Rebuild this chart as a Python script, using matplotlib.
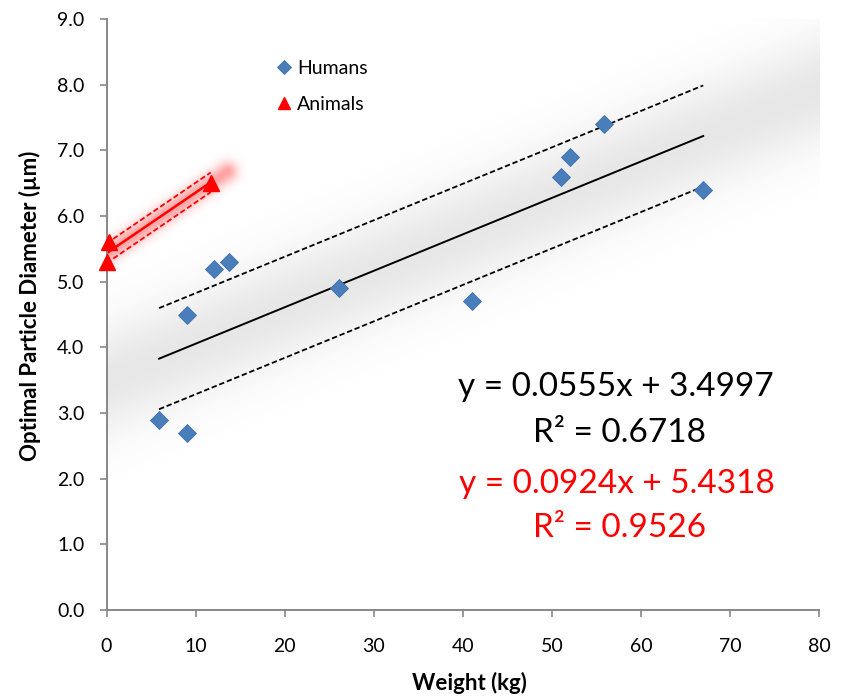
import numpy as np
import matplotlib
matplotlib.use("Agg")
import matplotlib.pyplot as plt

plt.rcParams['font.family'] = ['Lato', 'DejaVu Sans']

# humans
human_weight = [5.9, 9.0, 9.0, 12.1, 13.7, 26.1, 41.0, 51.0, 52.0, 55.9, 67.0]
human_diam = [2.9, 2.7, 4.5, 5.2, 5.3, 4.9, 4.7, 6.6, 6.9, 7.4, 6.4]

# animals
animal_weight = [0.0, 0.3, 11.7]
animal_diam = [5.3, 5.6, 6.5]

# trend lines (slope, intercept, r2) and half width of the dashed band
human_fit = (0.0555, 3.4997, 0.6718)
animal_fit = (0.0924, 5.4318, 0.9526)
human_band = 0.77
animal_band = 0.15

xticks = np.arange(0, 81, 10)
yticks = np.arange(0, 9.1, 1.0)

W, H = 843, 696
fig = plt.figure(figsize=(W / 100, H / 100), dpi=100)
ax = fig.add_axes([106.5 / W, 86 / H, 712.5 / W, 591 / H])
ax.set_xlim(0, 80)
ax.set_ylim(0, 9)

# pixels per data unit, used for the glow
sx = 712.5 / 80
sy = 591 / 9


def glow(slope, icpt, x0, x1, sigma, rgb, amax):
    gx = np.linspace(0, 80, 900)
    gy = np.linspace(0, 9, 700)
    X, Y = np.meshgrid(gx, gy)
    # distance to segment in pixel space
    px, py = X * sx, Y * sy
    ax0, ay0 = x0 * sx, (slope * x0 + icpt) * sy
    ax1, ay1 = x1 * sx, (slope * x1 + icpt) * sy
    dx, dy = ax1 - ax0, ay1 - ay0
    t = ((px - ax0) * dx + (py - ay0) * dy) / (dx * dx + dy * dy)
    t = np.clip(t, 0, 1)
    d2 = (px - (ax0 + t * dx)) ** 2 + (py - (ay0 + t * dy)) ** 2
    img = np.zeros(X.shape + (4,))
    img[..., :3] = rgb
    img[..., 3] = amax * np.exp(-d2 / (2 * sigma ** 2))
    ax.imshow(img, extent=(0, 80, 0, 9), origin='lower', aspect='auto',
              interpolation='bilinear', zorder=0)


glow(human_fit[0], human_fit[1], -40, 120, 36, (0.45, 0.45, 0.45), 0.17)
glow(animal_fit[0], animal_fit[1], 0, 13.5, 7, (1.0, 0.2, 0.2), 0.45)

# human trend line with band
hx = np.array([min(human_weight), max(human_weight)])
hy = human_fit[0] * hx + human_fit[1]
ax.plot(hx, hy, color='black', lw=1.4, zorder=2)
ax.plot(hx, hy + human_band, color='black', lw=1.3, ls=(0, (3, 1.5)), zorder=2)
ax.plot(hx, hy - human_band, color='black', lw=1.3, ls=(0, (3, 1.5)), zorder=2)

# animal trend line with band
axs = np.array([min(animal_weight), max(animal_weight)])
ays = animal_fit[0] * axs + animal_fit[1]
ax.plot(axs, ays, color='red', lw=1.8, zorder=2)
ax.plot(axs, ays + animal_band, color='red', lw=1.3, ls=(0, (3, 1.5)), zorder=2)
ax.plot(axs, ays - animal_band, color='red', lw=1.3, ls=(0, (3, 1.5)), zorder=2)

ax.plot(human_weight, human_diam, ls='none', marker='D', ms=9,
        color='#4A7EBB', mec='#3F6FA8', mew=0.6, label='Humans', zorder=3,
        clip_on=False)
ax.plot(animal_weight, animal_diam, ls='none', marker='^', ms=11,
        color='#FF0000', label='Animals', zorder=3, clip_on=False)

leg = ax.legend(loc='upper left', bbox_to_anchor=(0.218, 0.96), frameon=False,
                fontsize=14, handlelength=0.5, handletextpad=0.4,
                labelspacing=0.95, markerscale=0.75)

# equations
eq_size = 24
ax.text(0.715, 0.378, f"y = {human_fit[0]:.4f}x + {human_fit[1]:.4f}",
        transform=ax.transAxes, ha='center', va='center', fontsize=eq_size,
        color='black')
ax.text(0.72, 0.30, f"R² = {human_fit[2]:.4f}", transform=ax.transAxes,
        ha='center', va='center', fontsize=eq_size, color='black')
ax.text(0.717, 0.213, f"y = {animal_fit[0]:.4f}x + {animal_fit[1]:.4f}",
        transform=ax.transAxes, ha='center', va='center', fontsize=eq_size,
        color='red')
ax.text(0.72, 0.138, f"R² = {animal_fit[2]:.4f}", transform=ax.transAxes,
        ha='center', va='center', fontsize=eq_size, color='red')

ax.set_xticks(xticks)
ax.set_yticks(yticks)
ax.set_yticklabels([f"{v:.1f}" for v in yticks])
for s in ['top', 'right']:
    ax.spines[s].set_visible(False)
for s in ['left', 'bottom']:
    ax.spines[s].set_color('#878787')
    ax.spines[s].set_linewidth(1.4)
ax.tick_params(axis='both', direction='out', length=5, width=1.2,
               color='#878787', labelsize=14)
ax.tick_params(axis='x', pad=15)
ax.tick_params(axis='y', pad=11)

ax.set_xlabel('Weight (kg)', fontsize=16, fontweight='bold')
ax.set_ylabel('Optimal Particle Diameter (µm)', fontsize=16, fontweight='bold')
ax.xaxis.set_label_coords(0.51, -0.104)
ax.yaxis.set_label_coords(-0.092, 0.514)

fig.savefig('out.png', dpi=100)
